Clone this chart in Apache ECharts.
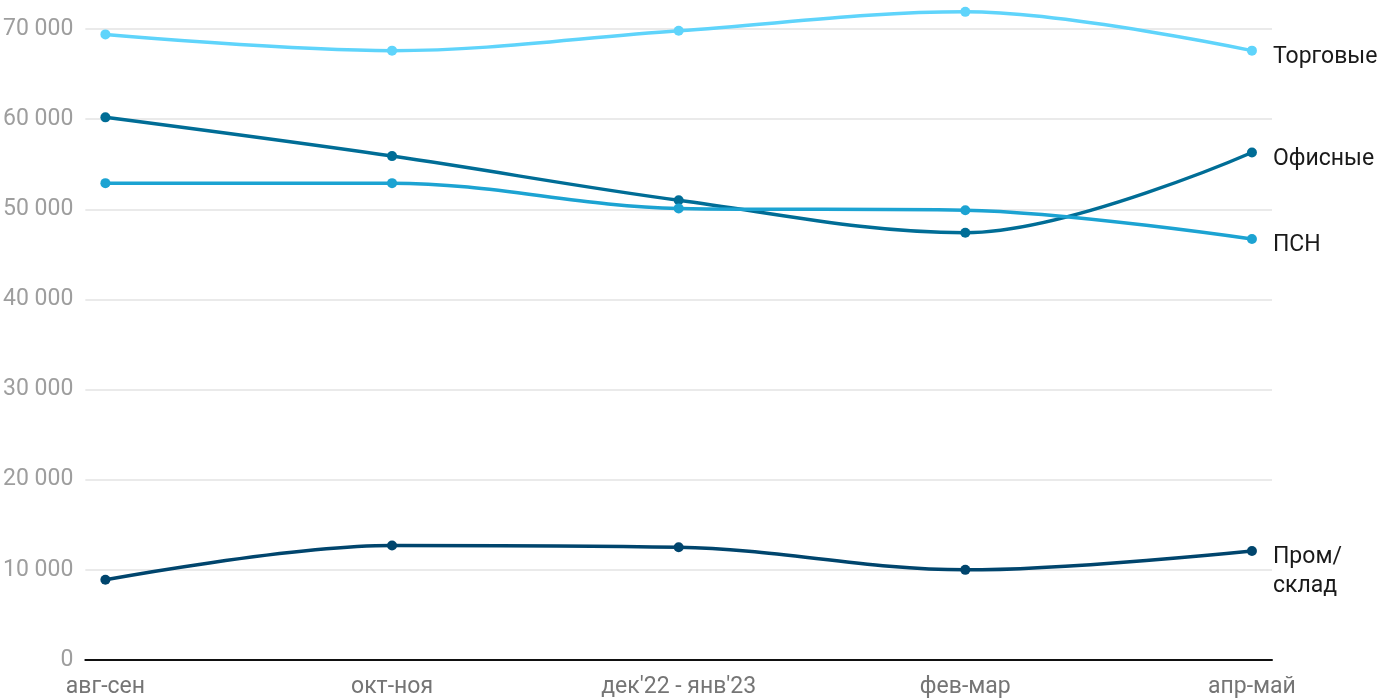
<!DOCTYPE html>
<html><head><meta charset="utf-8">
<script src="https://cdn.jsdelivr.net/npm/echarts@6/dist/echarts.min.js"></script>
<style>html,body{margin:0;padding:0;background:#fff}#c{width:1400px;height:700px}</style>
</head><body><div id="c"></div>
<script>
const categories = ['авг-сен', 'окт-ноя', "дек'22 - янв'23", 'фев-мар', 'апр-май'];
const seriesNames = ['Торговые', 'Офисные', 'ПСН', 'Пром/\nсклад'];
const torgovye = [69400, 67600, 69800, 71900, 67600];
const ofisnye = [60200, 55900, 51000, 47400, 56300];
const psn = [52900, 52900, 50100, 49900, 46700];
const prom = [8900, 12700, 12500, 10000, 12100];
const yTicks = [0, 10000, 20000, 30000, 40000, 50000, 60000, 70000];
const colors = ['#5fd4fb', '#006d96', '#1ca3d2', '#00456d'];
const values = [torgovye, ofisnye, psn, prom];

const chart = echarts.init(document.getElementById('c'));
const fmt = v => String(v).replace(/\B(?=(\d{3})+(?!\d))/g, ' ');
chart.setOption({
  animation: false,
  grid: { left: 85, right: 128, top: 29, bottom: 40 },
  xAxis: {
    type: 'value', min: -0.07, max: 4.07,
    splitLine: { show: false },
    axisTick: { show: false },
    axisLine: { show: true, onZero: false, lineStyle: { color: '#111', width: 2 } },
    axisLabel: {
      customValues: [0, 1, 2, 3, 4], showMinLabel: true, showMaxLabel: true,
      formatter: v => categories[Math.round(v)],
      color: '#757575', fontSize: 23, fontFamily: 'Roboto', margin: 16
    }
  },
  yAxis: {
    type: 'value', min: 0, max: 70000, interval: 10000,
    axisLine: { show: false }, axisTick: { show: false },
    splitLine: { lineStyle: { color: '#e3e3e3', width: 1.5 } },
    axisLabel: { formatter: v => fmt(v), color: '#9e9e9e', fontSize: 23, fontFamily: 'Roboto', margin: 12, padding: [4, 0, 0, 0] }
  },
  series: values.map((arr, i) => ({
    type: 'line', name: seriesNames[i], smooth: 0.35, clip: false,
    data: arr.map((v, j) => [j, v]),
    symbol: 'circle', symbolSize: 10,
    lineStyle: { color: colors[i], width: 3.5 },
    itemStyle: { color: colors[i] },
    endLabel: {
      show: true, formatter: seriesNames[i], color: '#1a1a1a', fontSize: 23, fontFamily: 'Roboto',
      lineHeight: 29, distance: 21, verticalAlign: 'top', offset: [0, -8]
    }
  }))
});
</script></body></html>
